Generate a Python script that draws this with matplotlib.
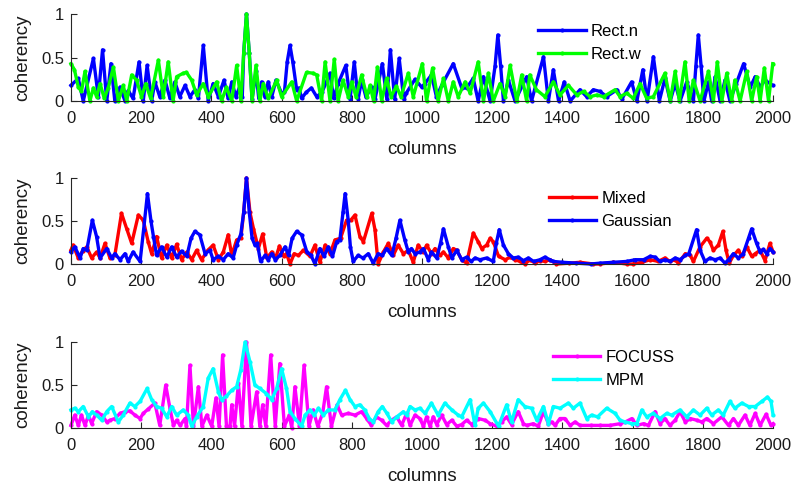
import matplotlib
matplotlib.use("Agg")
import matplotlib.pyplot as plt
import numpy as np


plt.rcParams['font.family'] = ['Liberation Sans', 'DejaVu Sans']

# Subplot 1 - rectangular windows.
rect_n_cols = [0, 21, 35, 64, 78, 90, 102, 114, 125, 140, 154, 163, 177, 194, 206, 217, 230, 239, 253, 268,
	282, 296, 310, 325, 339, 353, 363, 377, 391, 405, 420, 436, 448, 458, 470, 482, 488, 492, 500, 508,
	516, 527, 535, 543, 552, 562, 572, 584, 600, 608, 616, 624, 632, 643, 650, 657, 670, 685, 700, 715,
	738, 748, 761, 783, 795, 807, 818, 828, 840, 857, 866, 887, 900, 910, 922, 935, 948, 955, 980, 999,
	1008, 1027, 1041, 1056, 1089, 1113, 1127, 1146, 1160, 1175, 1194, 1208, 1216, 1224, 1232, 1246, 1265, 1298, 1312, 1346,
	1360, 1374, 1389, 1405, 1422, 1450, 1469, 1488, 1507, 1526, 1555, 1569, 1597, 1612, 1629, 1641, 1659, 1676, 1692, 1707,
	1721, 1735, 1754, 1773, 1780, 1787, 1795, 1803, 1816, 1825, 1835, 1849, 1863, 1877, 1895, 1916, 1935, 1949, 1963, 1977,
	1999]
rect_n_vals = [.18, .26, 0, .49, .05, .59, 0, .43, 0, .16, 0, .12, .03, .45, 0, .41, 0, .22, .05, .24,
	.03, .22, .05, .18, .05, .13, .03, .64, 0, .2, .05, .24, .03, .22, .05, .18, .05, .55, 1.0, .55,
	.02, .34, .03, .22, .05, .22, .05, .24, .09, .1, .45, .64, .45, .13, .15, .03, .1, .15, .05, .1,
	.32, .03, .2, .41, .02, .45, .02, .24, .05, .16, .02, .43, .02, .59, .02, .49, .02, .09, .25, .16,
	.2, .3, .05, .18, .43, .15, .15, .26, 0, .28, 0, .4, .76, .4, 0, .24, 0, .28, 0, .51,
	0, .36, 0, .22, 0, .13, .05, .13, .11, .05, .13, .02, .22, 0, .36, 0, .51, 0, .26, 0,
	.2, 0, .22, 0, .4, .76, .4, 0, .22, 0, .28, 0, .24, 0, .2, .43, .16, .28, .16, .24,
	.18]

rect_w_cols = [0, 10, 21, 30, 40, 54, 64, 73, 83, 95, 106, 121, 135, 149, 159, 173, 187, 201, 213, 227,
	249, 263, 277, 291, 301, 320, 329, 344, 358, 377, 391, 415, 429, 443, 458, 472, 484, 492, 500, 508,
	516, 527, 538, 548, 562, 586, 600, 629, 643, 671, 690, 700, 714, 724, 738, 750, 761, 775, 790, 800,
	812, 828, 843, 852, 862, 873, 885, 899, 912, 927, 940, 961, 975, 1001, 1013, 1030, 1046, 1061, 1075, 1089,
	1103, 1123, 1137, 1160, 1175, 1189, 1203, 1222, 1237, 1251, 1270, 1284, 1298, 1307, 1326, 1350, 1374, 1393, 1417, 1441,
	1460, 1479, 1498, 1517, 1550, 1564, 1583, 1602, 1621, 1640, 1659, 1692, 1707, 1721, 1733, 1749, 1761, 1773, 1792, 1816,
	1830, 1841, 1854, 1868, 1882, 1891, 1906, 1925, 1939, 1953, 1963, 1975, 1987, 1999]
rect_w_vals = [.43, .36, .16, .11, .34, 0, .15, .05, .2, .03, .15, .39, 0, .18, 0, .3, .24, .05, .2, .03,
	.47, .05, .45, 0, .28, .32, .33, .24, .07, .2, .05, .22, 0, .16, 0, .41, 0, .55, 1.0, .55,
	0, .41, 0, .2, .03, .24, .05, .22, 0, .33, .32, .3, 0, .45, 0, .48, 0, .24, .05, .22,
	.05, .3, .05, .18, 0, .39, 0, .26, .05, .17, .05, .32, .05, .43, 0, .38, 0, .26, 0, .22,
	.05, .22, .09, .45, 0, .32, 0, .2, .05, .41, 0, .3, 0, .3, .13, .05, .22, .07, .18, .07,
	.11, .05, .07, .05, .13, .05, .09, .03, .2, .03, .05, .32, 0, .34, 0, .45, 0, .24, 0, .34,
	0, .45, 0, .32, 0, .24, 0, .34, 0, .28, 0, .38, 0, .43]

# Subplot 2 - mixed and gaussian windows.
mixed_cols = [0, 6, 21, 33, 45, 59, 73, 83, 97, 111, 125, 144, 159, 173, 192, 206, 220, 230, 244, 258,
	273, 287, 301, 315, 330, 344, 358, 372, 390, 405, 420, 434, 448, 458, 472, 484, 492, 500, 510, 520,
	534, 546, 558, 572, 583, 594, 606, 614, 624, 636, 648, 662, 681, 695, 709, 724, 738, 752, 768, 785,
	797, 809, 823, 833, 857, 866, 875, 890, 904, 918, 932, 947, 961, 975, 989, 1004, 1013, 1027, 1037, 1051,
	1061, 1075, 1089, 1099, 1113, 1127, 1146, 1160, 1170, 1184, 1194, 1203, 1218, 1237, 1251, 1265, 1279, 1293, 1307, 1322,
	1336, 1350, 1364, 1383, 1420, 1450, 1488, 1507, 1545, 1583, 1602, 1626, 1650, 1673, 1692, 1706, 1721, 1730, 1750, 1764,
	1773, 1792, 1811, 1820, 1830, 1844, 1857, 1866, 1875, 1887, 1901, 1911, 1925, 1939, 1949, 1963, 1977, 1991, 2000]
mixed_vals = [.16, .22, .07, .15, .2, .07, .14, .07, .24, .07, .1, .59, .41, .24, .57, .51, .26, .12, .32, .07,
	.22, .07, .23, .05, .14, .05, .16, .05, .16, .22, .05, .14, .34, .1, .28, .3, .6, 1.0, .6, .41,
	.18, .35, .07, .14, .07, .21, .09, .12, 0, .12, .1, .16, .09, .22, .02, .22, .12, .28, .3, .51,
	.51, .57, .32, .26, .59, .4, 0, .14, .24, .1, .22, .12, .16, .02, .22, .14, .22, .12, .18, .1,
	.14, .07, .18, .16, .05, .01, .36, .26, .18, .22, .3, .26, .09, .05, .08, .05, .03, 0, .05, .01,
	.04, .03, .05, 0, .01, .02, 0, 0, .02, 0, 0, .02, .05, .03, .07, .03, .05, .01, .12, .1,
	.03, .2, .3, .26, .16, .22, .38, .16, .01, .1, .16, .09, .2, .09, .12, .16, .04, .24, .14]

gaussian_cols = [0, 11, 26, 35, 45, 61, 73, 83, 102, 116, 125, 140, 154, 163, 177, 197, 207, 218, 228, 235,
	244, 258, 273, 287, 301, 315, 330, 342, 353, 367, 382, 396, 405, 420, 434, 448, 462, 472, 484, 492,
	500, 508, 516, 524, 531, 540, 553, 562, 572, 582, 595, 610, 620, 630, 643, 657, 672, 684, 695, 709,
	721, 733, 745, 757, 766, 775, 781, 790, 796, 804, 818, 832, 847, 861, 875, 887, 899, 914, 926, 937,
	951, 961, 970, 980, 994, 1004, 1018, 1027, 1042, 1053, 1061, 1075, 1085, 1099, 1113, 1127, 1140, 1151, 1165, 1184,
	1203, 1212, 1220, 1232, 1246, 1260, 1274, 1289, 1303, 1318, 1336, 1350, 1364, 1374, 1400, 1440, 1480, 1507, 1545, 1583,
	1607, 1631, 1650, 1664, 1678, 1692, 1706, 1721, 1735, 1750, 1760, 1782, 1792, 1806, 1820, 1835, 1849, 1863, 1873, 1887,
	1901, 1915, 1930, 1939, 1953, 1963, 1972, 1982, 1991, 2000]
gaussian_vals = [.14, .2, .07, .18, .16, .51, .32, .07, .18, .07, .12, .05, .12, .03, .14, .03, .4, .82, .5, .32,
	.1, .2, .08, .2, .08, .15, .09, .3, .38, .34, .12, .16, .05, .09, .05, .12, .07, .22, .35, .6,
	1.0, .6, .3, .22, .24, .03, .1, .05, .12, .05, .1, .2, .1, .3, .38, .34, .14, .1, 0, .18,
	.09, .2, .09, .26, .28, .6, .82, .5, .2, .03, .1, .07, .12, .01, .12, .1, .18, .1, .3, .51,
	.28, .14, .18, .12, .14, .18, .05, .14, .07, .25, .41, .2, .07, .16, .05, .08, .03, .07, .05, .07,
	.03, .25, .4, .22, .12, .07, .08, .04, .07, .03, .05, .08, .05, .03, .02, .01, 0, .01, .02, .03,
	.05, .05, .09, .08, .03, .05, .03, .07, .05, .1, .12, .4, .16, .03, .07, .05, .07, .01, .05, .12,
	.07, .12, .3, .41, .24, .14, .17, .12, .18, .14]

# Subplot 3 - FOCUSS and MPM.
focuss_cols = [0, 11, 21, 30, 40, 50, 59, 73, 88, 102, 111, 125, 140, 154, 168, 182, 197, 206, 220, 239,
	253, 270, 282, 292, 301, 311, 325, 329, 339, 349, 363, 373, 387, 401, 413, 422, 432, 443, 453, 458,
	466, 477, 487, 500, 513, 529, 538, 546, 555, 569, 582, 595, 608, 622, 629, 638, 651, 664, 678, 690,
	703, 717, 728, 742, 758, 771, 790, 809, 828, 842, 856, 870, 885, 899, 913, 928, 942, 956, 966, 980,
	994, 1004, 1013, 1023, 1032, 1042, 1056, 1070, 1085, 1099, 1113, 1127, 1142, 1160, 1180, 1194, 1213, 1227, 1241, 1255,
	1274, 1289, 1298, 1317, 1331, 1346, 1360, 1369, 1379, 1393, 1407, 1422, 1436, 1450, 1480, 1507, 1535, 1564, 1579, 1598,
	1612, 1631, 1645, 1664, 1678, 1692, 1706, 1721, 1735, 1750, 1764, 1783, 1797, 1811, 1830, 1854, 1873, 1887, 1901, 1920,
	1934, 1949, 1963, 1980, 1994, 2000]
focuss_vals = [.03, .15, .03, .15, .03, .15, .05, .19, .15, .07, .09, .11, .17, .19, .2, .15, .11, .17, .22, .29,
	.03, .5, .23, .03, .09, .03, .11, .02, .73, .02, .48, .02, .15, .02, .35, .02, .85, .02, .02, .27,
	.02, .52, .02, 1.0, .02, .42, .02, .27, .02, .85, .02, .75, .02, .15, 0, .48, .02, .73, .02, .21,
	.02, .17, .48, .02, .27, .15, .17, .15, .19, .11, .03, .13, .09, .03, .09, .13, .03, .17, .03, .15,
	.11, .02, .13, .02, .13, .04, .15, .04, .09, .02, .04, .09, .04, .11, .09, .05, .02, .07, .13, .04,
	.19, .05, .03, .05, .02, .19, .05, .07, .03, .11, .11, .03, .07, .03, .03, .03, .03, .05, .07, .11,
	.03, .05, .03, .19, .05, .11, .03, .09, .19, .07, .11, .09, .07, .11, .05, .13, .03, .11, .03, .15,
	.03, .17, .03, .16, .03, .05]

mpm_cols = [0, 11, 21, 35, 50, 61, 73, 88, 102, 116, 135, 149, 168, 182, 197, 217, 230, 244, 258, 273,
	287, 301, 320, 334, 344, 358, 377, 391, 405, 420, 429, 443, 458, 472, 484, 496, 510, 524, 538, 557,
	572, 586, 600, 614, 624, 638, 657, 667, 681, 693, 705, 719, 733, 752, 766, 782, 795, 809, 823, 837,
	850, 861, 875, 887, 900, 914, 928, 947, 956, 966, 980, 994, 1009, 1027, 1046, 1065, 1085, 1103, 1113, 1137,
	1151, 1160, 1175, 1194, 1218, 1241, 1255, 1274, 1293, 1312, 1327, 1346, 1360, 1374, 1393, 1417, 1431, 1450, 1469, 1483,
	1500, 1526, 1550, 1564, 1579, 1598, 1612, 1626, 1640, 1659, 1678, 1697, 1711, 1735, 1754, 1773, 1792, 1811, 1825, 1844,
	1858, 1877, 1891, 1911, 1930, 1949, 1968, 1984, 1994, 2000]
mpm_vals = [.21, .23, .19, .25, .13, .19, .15, .09, .19, .25, .07, .15, .29, .25, .31, .46, .33, .25, .23, .13,
	.25, .15, .21, .15, .02, .13, .25, .58, .69, .42, .33, .37, .44, .48, .68, 1.0, .77, .5, .46, .4,
	.33, .46, .69, .46, .19, .11, .02, .15, .21, .15, .23, .15, .21, .21, .33, .44, .33, .25, .27, .21,
	.11, .07, .19, .25, .17, .07, .13, .19, .15, .25, .21, .23, .17, .29, .15, .29, .21, .15, .13, .33,
	.03, .23, .29, .19, .02, .27, .07, .33, .25, .23, .09, .25, .05, .25, .23, .29, .23, .29, .11, .15,
	.13, .23, .17, .09, .07, .05, .05, .21, .13, .17, .11, .17, .15, .21, .13, .21, .15, .23, .15, .21,
	.15, .31, .23, .29, .25, .25, .31, .36, .31, .15]

x_ticks = list(range(0, 2001, 200))
y_ticks = [0, 0.5, 1]

AXIS_COLOR = '#262626'


def style_axis(ax):
	ax.set_xlim(0, 2000)
	ax.set_ylim(0, 1)
	ax.set_xticks(x_ticks)
	ax.set_yticks(y_ticks)
	ax.set_yticklabels(['0', '0.5', '1'])
	ax.spines['top'].set_visible(False)
	ax.spines['right'].set_visible(False)
	for side in ['left', 'bottom']:
		ax.spines[side].set_color(AXIS_COLOR)
		ax.spines[side].set_linewidth(0.8)
	ax.tick_params(direction='in', length=4, width=0.8, colors=AXIS_COLOR,
		labelsize=12, labelcolor='#1a1a1a')
	ax.tick_params(axis='x', pad=7)
	ax.tick_params(axis='y', pad=5)
	ax.set_xlabel('columns', fontsize=13.5, color='#1a1a1a', labelpad=11)
	ax.set_ylabel('coherency', fontsize=13.5, color='#1a1a1a', labelpad=7)


def plot_pair(ax, series, legend_anchor):
	for cols, vals, color, label in series:
		ax.plot(cols, vals, color=color, linewidth=2.4, marker='.',
			markersize=4, label=label, clip_on=False)
	style_axis(ax)
	ax.legend(loc='upper left', bbox_to_anchor=legend_anchor, frameon=False,
		fontsize=12, handlelength=2.85, handletextpad=0.3, labelspacing=0.5,
		borderaxespad=0)


def main():
	fig = plt.figure(figsize=(7.97, 4.88), dpi=100)
	ax1 = fig.add_axes([0.089, 0.793, 0.881, 0.178])
	ax2 = fig.add_axes([0.089, 0.459, 0.881, 0.176])
	ax3 = fig.add_axes([0.089, 0.123, 0.881, 0.176])

	plot_pair(ax1, [
		(rect_n_cols, rect_n_vals, '#0000ff', 'Rect.n'),
		(rect_w_cols, rect_w_vals, '#00ff00', 'Rect.w'),
		], (0.656, 0.965))
	plot_pair(ax2, [
		(mixed_cols, mixed_vals, '#ff0000', 'Mixed'),
		(gaussian_cols, gaussian_vals, '#0000ff', 'Gaussian'),
		], (0.671, 0.93))
	plot_pair(ax3, [
		(focuss_cols, focuss_vals, '#ff00ff', 'FOCUSS'),
		(mpm_cols, mpm_vals, '#00ffff', 'MPM'),
		], (0.677, 0.99))

	fig.savefig('out.png', dpi=100)


if __name__ == '__main__':
	main()
